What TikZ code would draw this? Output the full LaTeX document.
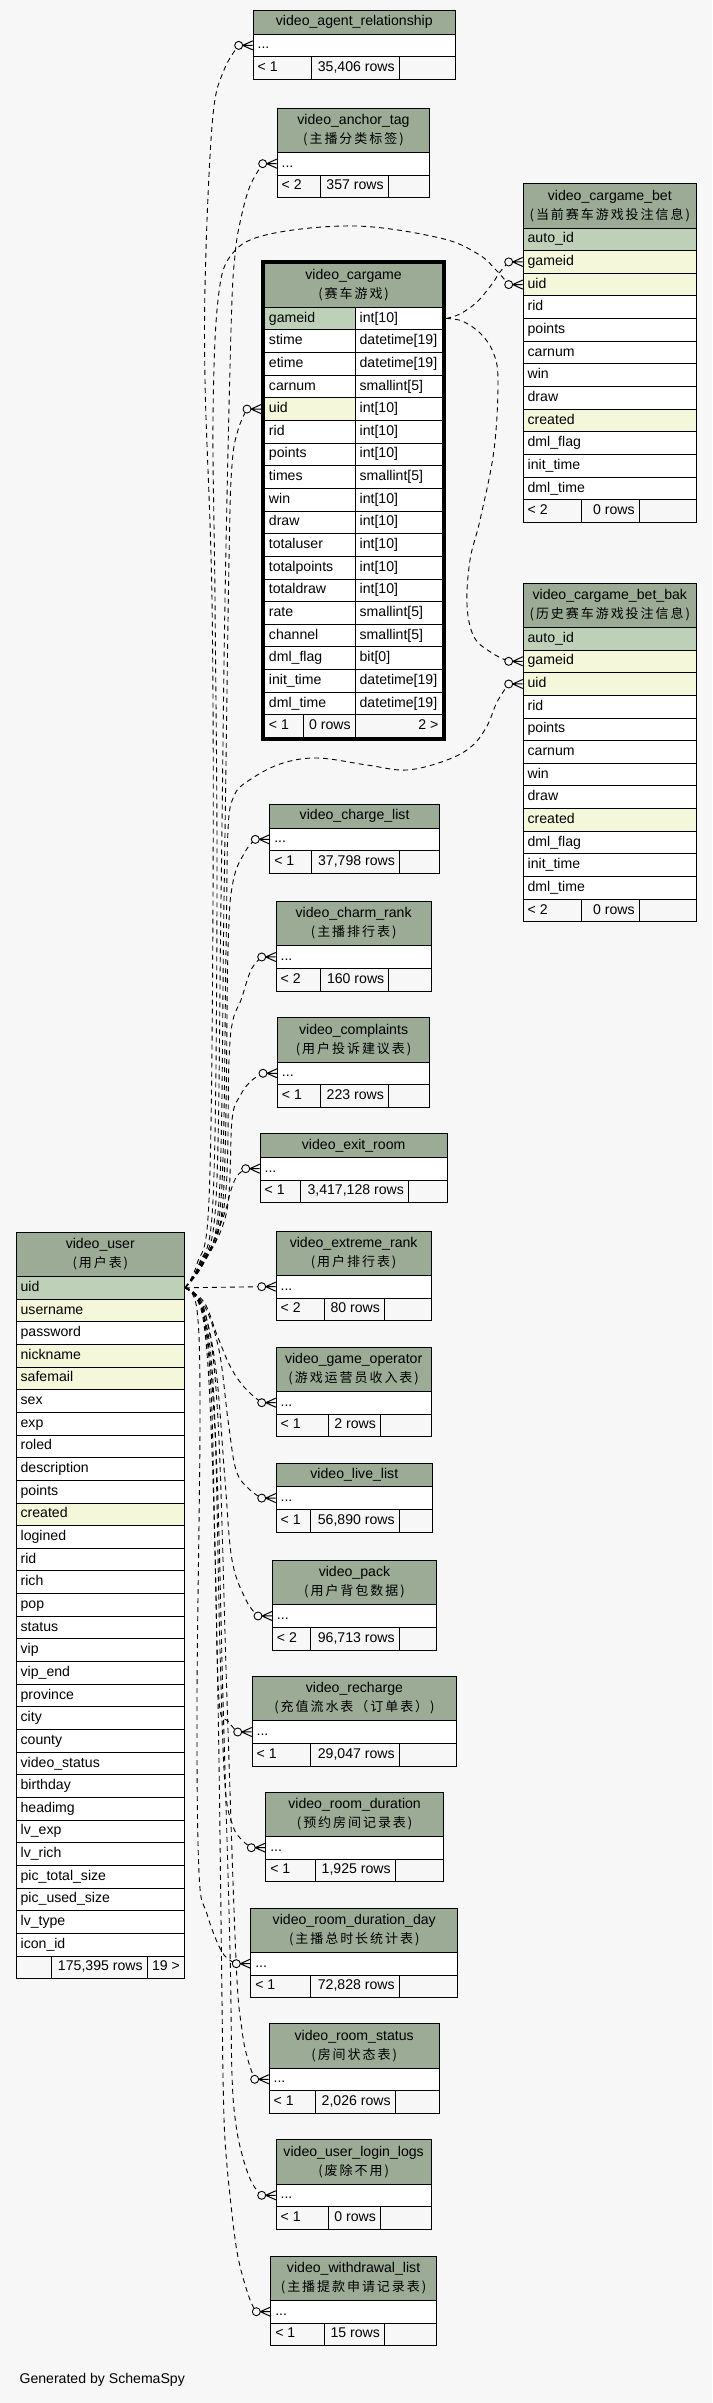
\documentclass[tikz,border=0pt]{standalone}
\usepackage{fontspec}
\setmainfont{Liberation Sans}
\newfontfamily\cjk[LetterSpace=15]{Noto Sans CJK SC}
\usetikzlibrary{fit}
\definecolor{bgc}{HTML}{F7F7F7}
\definecolor{hdc}{HTML}{9BAB96}
\definecolor{rowP}{HTML}{BED1B8}
\definecolor{rowF}{HTML}{F4F7DA}
\definecolor{rowN}{HTML}{FFFFFF}
\definecolor{ftc}{HTML}{F7F7F7}
\newcommand\cjksub[1]{\\{\cjk\fontsize{13}{19}\selectfont #1}}
\newcommand\tabhead[6]{\node[hd, minimum width=#4pt, minimum height=#5pt] (#1) at (#2,#3) {#6};}
\newcommand\rowsof[5]{\foreach \rcol/\rtxt [count=\i] in {#5}{\node[cell, fill=\rcol] (#1-\i) at (#2,{#3+(\i-1)*22.65}) {\hbox to \dimexpr#4pt-9pt\relax{\rtxt\hfil}};}}
\newcommand\dotrow[4]{\node[cell, fill=rowN] (#1-1) at (#2,#3) {\hbox to \dimexpr#4pt-9pt\relax{...\hfil}};}
\newcommand\footof[9]{%
 \node[cell, fill=ftc] (#1-fa) at (#2,#3) {\hbox to \dimexpr#4pt-#2pt-9pt\relax{#7\hfil}};
 \node[cell, fill=ftc] (#1-fb) at (#4,#3) {\hbox to \dimexpr#5pt-#4pt-9pt\relax{\hfil #8}};
 \node[cell, fill=ftc] (#1-fc) at (#5,#3) {\hbox to \dimexpr#6pt-#5pt-9pt\relax{\hfil #9}};}
\newcommand\mkend[2]{\coordinate (#1-e) at (#2); \coordinate (#1-c) at ([xshift=-14pt]#1-e);}
\newcommand\drawcrow[1]{\draw[line width=1pt] ([xshift=-10pt]#1-e) -- ([yshift=4.5pt]#1-e) ([xshift=-10pt]#1-e) -- (#1-e) ([xshift=-10pt]#1-e) -- ([yshift=-4.5pt]#1-e);
 \draw[line width=0.9pt, fill=bgc] (#1-c) circle (4pt);}
\begin{document}
\begin{tikzpicture}[x=1pt,y=-1pt,
 every node/.style={font=\fontsize{14.1}{19}\selectfont},
 hd/.style={draw=black, fill=hdc, line width=0.9pt, inner sep=0pt, align=center, anchor=north west},
 cell/.style={draw=black, line width=0.9pt, inner xsep=4.5pt, inner ysep=0pt, minimum height=22.65pt, anchor=north west, text height=10.2pt, text depth=3pt},
 rel/.style={line width=0.9pt, dash pattern=on 5pt off 4pt}]
\fill[bgc] (0,0) rectangle (712,2403);
\useasboundingbox (0,0) rectangle (712,2403);

% video_agent_relationship
\tabhead{agent}{252.7}{10}{202.3}{23.6}{video\_agent\_relationship}
\dotrow{agent}{252.7}{33.6}{202.3}
\footof{agent}{252.7}{56.25}{310.7}{398.7}{455}{< 1}{35,406 rows}{}
% video_anchor_tag
\tabhead{anchor}{276.7}{107.7}{152.6}{44.2}{video\_anchor\_tag\cjksub{(主播分类标签)}}
\dotrow{anchor}{276.7}{151.9}{152.6}
\footof{anchor}{276.7}{174.55}{320}{387.7}{429.3}{< 2}{357 rows}{}
% video_cargame_bet
\tabhead{bet}{522.7}{183.3}{173.3}{44.2}{video\_cargame\_bet\cjksub{(当前赛车游戏投注信息)}}
\rowsof{bet}{522.7}{227.5}{173.3}{rowP/auto\_id,rowF/gameid,rowF/uid,rowN/rid,rowN/points,rowN/carnum,rowN/win,rowN/draw,rowF/created,rowN/dml\_flag,rowN/init\_time,rowN/dml\_time}
\footof{bet}{522.7}{499.3}{581}{638.7}{696}{< 2}{0 rows}{}
% video_cargame
\tabhead{cg}{264}{263}{178.3}{43.7}{video\_cargame\cjksub{(赛车游戏)}}
\rowsof{cg}{264}{306.7}{90.7}{rowP/gameid,rowN/stime,rowN/etime,rowN/carnum,rowF/uid,rowN/rid,rowN/points,rowN/times,rowN/win,rowN/draw,rowN/totaluser,rowN/totalpoints,rowN/totaldraw,rowN/rate,rowN/channel,rowN/dml\_flag,rowN/init\_time,rowN/dml\_time}
\rowsof{cgt}{354.7}{306.7}{87.6}{rowN/int[10],rowN/datetime[19],rowN/datetime[19],rowN/smallint[5],rowN/int[10],rowN/int[10],rowN/int[10],rowN/smallint[5],rowN/int[10],rowN/int[10],rowN/int[10],rowN/int[10],rowN/int[10],rowN/smallint[5],rowN/smallint[5],rowN/bit[0],rowN/datetime[19],rowN/datetime[19]}
\footof{cg}{264}{714.4}{302.7}{354.7}{442.3}{< 1}{0 rows}{2 >}
\node[fit=(cg)(cg-fa)(cg-fc), draw=black, line width=3pt, inner sep=1.2pt] (cg-frame) {};
% video_cargame_bet_bak
\tabhead{bak}{522.7}{582.7}{173.3}{44.2}{video\_cargame\_bet\_bak\cjksub{(历史赛车游戏投注信息)}}
\rowsof{bak}{522.7}{626.9}{173.3}{rowP/auto\_id,rowF/gameid,rowF/uid,rowN/rid,rowN/points,rowN/carnum,rowN/win,rowN/draw,rowF/created,rowN/dml\_flag,rowN/init\_time,rowN/dml\_time}
\footof{bak}{522.7}{898.7}{581}{638.7}{696}{< 2}{0 rows}{}
% video_charge_list
\tabhead{charge}{269.3}{804}{169.7}{23.6}{video\_charge\_list}
\dotrow{charge}{269.3}{827.6}{169.7}
\footof{charge}{269.3}{850.25}{310.7}{399}{439}{< 1}{37,798 rows}{}
% video_charm_rank
\tabhead{charm}{275.7}{901}{155}{44.2}{video\_charm\_rank\cjksub{(主播排行表)}}
\dotrow{charm}{275.7}{945.2}{155}
\footof{charm}{275.7}{967.85}{320}{388.3}{430.7}{< 2}{160 rows}{}
% video_complaints
\tabhead{compl}{277}{1017.3}{152.3}{44.2}{video\_complaints\cjksub{(用户投诉建议表)}}
\dotrow{compl}{277}{1061.5}{152.3}
\footof{compl}{277}{1084.15}{320}{388}{429.3}{< 1}{223 rows}{}
% video_exit_room
\tabhead{exit}{259.7}{1133.3}{187}{23.6}{video\_exit\_room}
\dotrow{exit}{259.7}{1156.9}{187}
\footof{exit}{259.7}{1179.55}{300}{408}{446.7}{< 1}{3,417,128 rows}{}
% video_extreme_rank
\tabhead{extreme}{275.7}{1230.7}{155}{44.2}{video\_extreme\_rank\cjksub{(用户排行表)}}
\dotrow{extreme}{275.7}{1274.9}{155}
\footof{extreme}{275.7}{1297.55}{323.7}{384}{430.7}{< 2}{80 rows}{}
% video_game_operator
\tabhead{gameop}{275.7}{1346.7}{155}{44.2}{video\_game\_operator\cjksub{(游戏运营员收入表)}}
\dotrow{gameop}{275.7}{1390.9}{155}
\footof{gameop}{275.7}{1413.55}{328.3}{380}{430.7}{< 1}{2 rows}{}
% video_live_list
\tabhead{live}{275.7}{1462.7}{156.3}{23.6}{video\_live\_list}
\dotrow{live}{275.7}{1486.3}{156.3}
\footof{live}{275.7}{1508.95}{310.3}{398.7}{432}{< 1}{56,890 rows}{}
% video_pack
\tabhead{pack}{272}{1560}{164}{44.2}{video\_pack\cjksub{(用户背包数据)}}
\dotrow{pack}{272}{1604.2}{164}
\footof{pack}{272}{1626.85}{310.3}{398.7}{436}{< 2}{96,713 rows}{}
% video_recharge
\tabhead{rech}{251.7}{1676}{204.6}{44.2}{video\_recharge\cjksub{(充值流水表（订单表）)}}
\dotrow{rech}{251.7}{1720.2}{204.6}
\footof{rech}{251.7}{1742.85}{310.3}{398.7}{456.3}{< 1}{29,047 rows}{}
% video_room_duration
\tabhead{rdur}{265.3}{1791.7}{177.7}{44.2}{video\_room\_duration\cjksub{(预约房间记录表)}}
\dotrow{rdur}{265.3}{1835.9}{177.7}
\footof{rdur}{265.3}{1858.55}{314.7}{394.7}{443}{< 1}{1,925 rows}{}
% video_room_duration_day
\tabhead{rday}{250.3}{1907.7}{207}{44.2}{video\_room\_duration\_day\cjksub{(主播总时长统计表)}}
\dotrow{rday}{250.3}{1951.9}{207}
\footof{rday}{250.3}{1974.55}{310.3}{398.7}{457.3}{< 1}{72,828 rows}{}
% video_room_status
\tabhead{rstat}{268.7}{2023.3}{170}{44.2}{video\_room\_status\cjksub{(房间状态表)}}
\dotrow{rstat}{268.7}{2067.5}{170}
\footof{rstat}{268.7}{2090.15}{314.7}{394.7}{438.7}{< 1}{2,026 rows}{}
% video_user_login_logs
\tabhead{login}{275.7}{2139.3}{155}{44.2}{video\_user\_login\_logs\cjksub{(废除不用)}}
\dotrow{login}{275.7}{2183.5}{155}
\footof{login}{275.7}{2206.15}{328}{380}{430.7}{< 1}{0 rows}{}
% video_withdrawal_list
\tabhead{wd}{270.3}{2255.7}{165.7}{44.2}{video\_withdrawal\_list\cjksub{(主播提款申请记录表)}}
\dotrow{wd}{270.3}{2299.9}{165.7}
\footof{wd}{270.3}{2322.55}{324}{384}{436}{< 1}{15 rows}{}
% video_user
\tabhead{user}{15.7}{1232}{168.3}{44}{video\_user\cjksub{(用户表)}}
\rowsof{user}{15.7}{1276}{168.3}{rowP/uid,rowF/username,rowN/password,rowF/nickname,rowF/safemail,rowN/sex,rowN/exp,rowN/roled,rowN/description,rowN/points,rowF/created,rowN/logined,rowN/rid,rowN/rich,rowN/pop,rowN/status,rowN/vip,rowN/vip\_end,rowN/province,rowN/city,rowN/county,rowN/video\_status,rowN/birthday,rowN/headimg,rowN/lv\_exp,rowN/lv\_rich,rowN/pic\_total\_size,rowN/pic\_used\_size,rowN/lv\_type,rowN/icon\_id}
\footof{user}{15.7}{1955.5}{50.7}{146.7}{184}{}{175,395 rows}{19 >}

\node[anchor=west] (gen) at (16,2380) {Generated by SchemaSpy};

% end points
\mkend{agent}{agent-1.west}
\mkend{anchor}{anchor-1.west}
\mkend{betg}{bet-2.west}
\mkend{betu}{bet-3.west}
\mkend{cgu}{[xshift=-3pt]cg-5.west}
\mkend{bakg}{bak-2.west}
\mkend{baku}{bak-3.west}
\mkend{charge}{charge-1.west}
\mkend{charm}{charm-1.west}
\mkend{compl}{compl-1.west}
\mkend{exit}{exit-1.west}
\mkend{extreme}{extreme-1.west}
\mkend{gameop}{gameop-1.west}
\mkend{live}{live-1.west}
\mkend{pack}{pack-1.west}
\mkend{rech}{rech-1.west}
\mkend{rdur}{rdur-1.west}
\mkend{rday}{rday-1.west}
\mkend{rstat}{rstat-1.west}
\mkend{login}{login-1.west}
\mkend{wd}{wd-1.west}
\coordinate (cgs) at ([xshift=3pt]cgt-1.east);

% connectors
\draw[rel] plot[smooth, tension=0.6] coordinates {(user-1.east) (197,1264) (209,1200) (213,900) (212,600) (205,380) (206,250) (213,115) (224,70) (agent-c)};
\draw[rel] plot[smooth, tension=0.6] coordinates {(user-1.east) (199,1264) (213,1200) (217,900) (215,600) (213,420) (218,300) (232,254) (270,234) (356,226) (440,238) (478,254) (496,270) (betu-c)};
\draw[rel] plot[smooth, tension=0.6] coordinates {(user-1.east) (200,1263) (216,1200) (221,900) (225,600) (231,330) (235,255) (241,218) (250,186) (anchor-c)};
\draw[rel] plot[smooth, tension=0.6] coordinates {(user-1.east) (201,1263) (219,1200) (224,900) (229,560) (232,465) (238,430) (cgu-c)};
\draw[rel] plot[smooth, tension=0.6] coordinates {(user-1.east) (202,1262) (221,1200) (226,950) (228,830) (234,796) (248,781) (280,764) (317,758) (367,765) (407,770) (447,760) (472,746) (487,726) (497,702) (baku-c)};
\draw[rel] plot[smooth, tension=0.6] coordinates {(user-1.east) (203,1262) (223,1200) (228,950) (233,882) (245,852) (charge-c)};
\draw[rel] plot[smooth, tension=0.6] coordinates {(user-1.east) (204,1262) (225,1200) (229,1060) (233,1020) (241,1000) (251,970) (charm-c)};
\draw[rel] plot[smooth, tension=0.6] coordinates {(user-1.east) (205,1261) (227,1210) (232,1120) (240,1096) (251,1081) (compl-c)};
\draw[rel] plot[smooth, tension=0.6] coordinates {(user-1.east) (206,1258) (224,1215) (231,1190) (237,1176) (exit-c)};
\draw[rel] (user-1.east) -- (extreme-c);
\draw[rel] plot[smooth, tension=0.6] coordinates {(user-1.east) (204,1302) (217,1335) (229,1364) (240,1382) (251,1394) (gameop-c)};
\draw[rel] plot[smooth, tension=0.6] coordinates {(user-1.east) (204,1305) (219,1350) (228,1420) (236,1470) (249,1489) (live-c)};
\draw[rel] plot[smooth, tension=0.6] coordinates {(user-1.east) (203,1308) (216,1370) (225,1480) (232,1560) (246,1600) (pack-c)};
\draw[rel] plot[smooth, tension=0.6] coordinates {(user-1.east) (202,1310) (211,1390) (215,1550) (219,1700) (228,1721) (rech-c)};
\draw[rel] plot[smooth, tension=0.6] coordinates {(user-1.east) (203,1311) (214,1400) (220,1650) (225,1785) (233,1826) (242,1840) (rdur-c)};
\draw[rel] plot[smooth, tension=0.6] coordinates {(user-1.east) (197,1310) (200,1420) (197,1700) (199,1873) (207,1914) (222,1952) (rday-c)};
\draw[rel] plot[smooth, tension=0.6] coordinates {(user-1.east) (205,1312) (218,1420) (227,1700) (236,1960) (242,2030) (248,2060) (rstat-c)};
\draw[rel] plot[smooth, tension=0.6] coordinates {(user-1.east) (204,1315) (216,1450) (223,1700) (230,1950) (232,2075) (236,2125) (243,2158) (252,2183) (login-c)};
\draw[rel] plot[smooth, tension=0.6] coordinates {(user-1.east) (203,1318) (212,1450) (218,1700) (222,2000) (223,2075) (225,2140) (231,2205) (238,2257) (249,2297) (wd-c)};
\draw[rel] plot[smooth, tension=0.6] coordinates {(cgs) (460,314) (477,302) (492,284) (500,272) (betg-c)};
\draw[rel] plot[smooth, tension=0.6] coordinates {(cgs) (462,321) (480,333) (493,352) (498,380) (494,450) (480,520) (470,560) (467,605) (474,637) (492,653) (bakg-c)};

% crow's feet with open circles
\drawcrow{agent}\drawcrow{anchor}\drawcrow{betg}\drawcrow{betu}\drawcrow{cgu}
\drawcrow{bakg}\drawcrow{baku}\drawcrow{charge}\drawcrow{charm}\drawcrow{compl}
\drawcrow{exit}\drawcrow{extreme}\drawcrow{gameop}\drawcrow{live}\drawcrow{pack}
\drawcrow{rech}\drawcrow{rdur}\drawcrow{rday}\drawcrow{rstat}\drawcrow{login}\drawcrow{wd}
\end{tikzpicture}
\end{document}
